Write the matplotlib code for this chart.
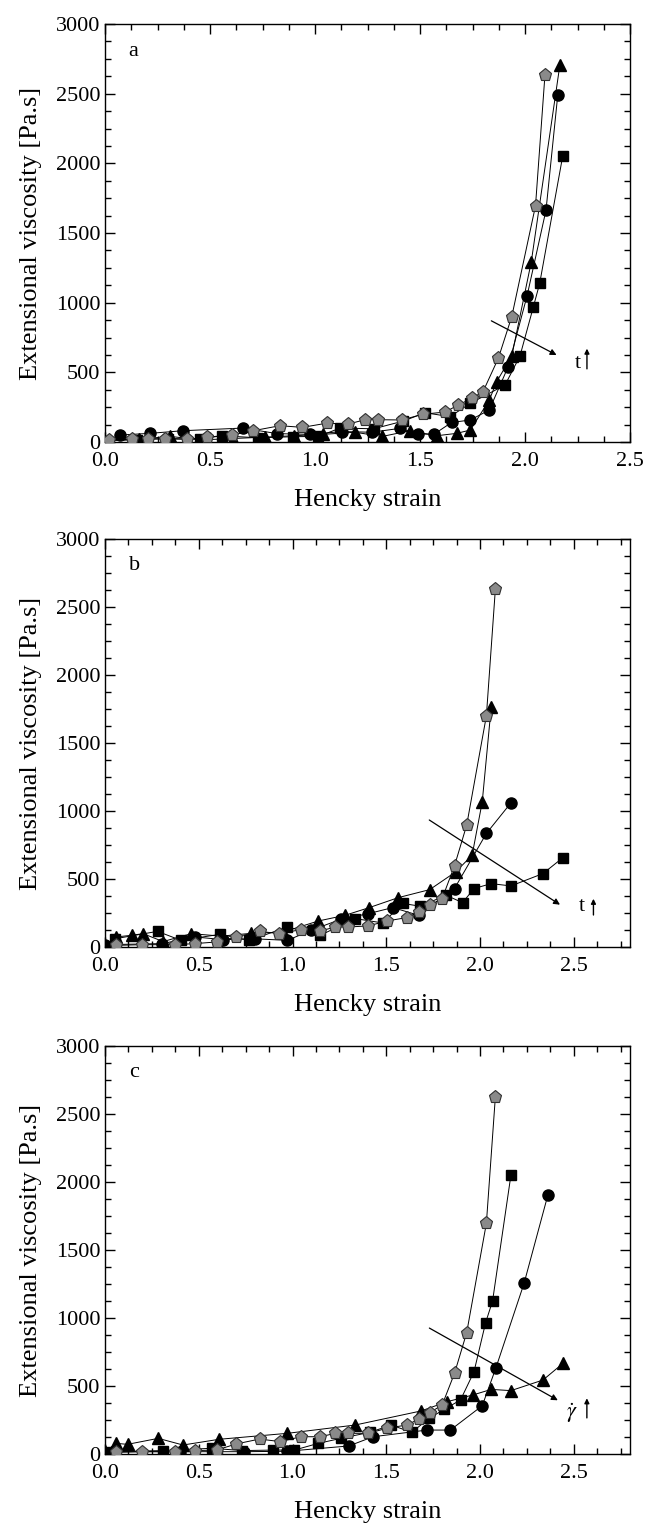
import matplotlib
matplotlib.use("Agg")
import matplotlib.pyplot as plt
from matplotlib.ticker import MultipleLocator

plt.rcParams['font.family'] = ['Liberation Serif', 'DejaVu Serif']
plt.rcParams['mathtext.fontset'] = 'stix'

# ---------------- Panel a ----------------
a_pent_x = [0.02, 0.127, 0.206, 0.286, 0.389, 0.484, 0.603, 0.706, 0.833, 0.94, 1.056, 1.159, 1.238, 1.302, 1.413, 1.513, 1.619, 1.683, 1.746, 1.80, 1.873, 1.937, 2.05, 2.095]
a_pent_y = [12, 20, 24, 22, 20, 35, 50, 81, 117, 105, 135, 129, 160, 160, 158, 199, 215, 266, 313, 361, 601, 900, 1695, 2633]
a_circ_x = [0.07, 0.214, 0.37, 0.656, 0.82, 0.976, 1.13, 1.27, 1.405, 1.492, 1.568, 1.65, 1.74, 1.83, 1.92, 2.01, 2.10, 2.156]
a_circ_y = [50, 62, 81, 100, 60, 55, 75, 70, 98, 57, 57, 140, 158, 230, 541, 1050, 1664, 2490]
a_tri_x = [0.02, 0.16, 0.31, 0.46, 0.61, 0.76, 0.90, 1.04, 1.19, 1.32, 1.45, 1.58, 1.675, 1.74, 1.83, 1.865, 1.937, 2.03, 2.166]
a_tri_y = [15, 20, 40, 15, 25, 35, 45, 55, 70, 40, 80, 45, 62, 86, 301, 433, 617, 1294, 2705]
a_sq_x = [0.0, 0.15, 0.30, 0.45, 0.556, 0.73, 0.894, 1.016, 1.12, 1.28, 1.42, 1.524, 1.643, 1.74, 1.905, 1.976, 2.04, 2.07, 2.18]
a_sq_y = [10, 15, 25, 20, 45, 30, 38, 40, 100, 95, 150, 210, 182, 278, 409, 617, 971, 1139, 2056]

# ---------------- Panel b ----------------
b_pent_x = [0.061, 0.197, 0.372, 0.48, 0.595, 0.70, 0.825, 0.93, 1.045, 1.148, 1.229, 1.295, 1.404, 1.503, 1.608, 1.673, 1.732, 1.798, 1.864, 1.929, 2.034, 2.082]
b_pent_y = [12, 17, 17, 25, 37, 74, 115, 98, 128, 118, 147, 147, 155, 191, 216, 258, 307, 356, 597, 896, 1699, 2632]
b_circ_x = [0.0, 0.306, 0.48, 0.63, 0.80, 0.973, 1.10, 1.258, 1.404, 1.535, 1.673, 1.864, 2.034, 2.165]
b_circ_y = [17, 25, 74, 54, 60, 49, 123, 204, 245, 290, 233, 430, 835, 1060]
b_tri_x = [0.06, 0.142, 0.203, 0.31, 0.46, 0.62, 0.776, 0.95, 1.137, 1.28, 1.41, 1.564, 1.732, 1.87, 1.958, 2.012, 2.06]
b_tri_y = [74, 86, 98, 40, 98, 80, 100, 110, 191, 233, 290, 363, 422, 552, 675, 1068, 1768]
b_sq_x = [0.055, 0.28, 0.405, 0.612, 0.77, 0.973, 1.148, 1.334, 1.48, 1.59, 1.68, 1.82, 1.907, 1.968, 2.06, 2.165, 2.336, 2.443]
b_sq_y = [61, 115, 49, 93, 49, 147, 86, 209, 177, 320, 300, 380, 326, 430, 466, 449, 540, 658]

# ---------------- Panel c ----------------
c_pent_x = [0.061, 0.197, 0.372, 0.48, 0.595, 0.70, 0.825, 0.934, 1.045, 1.148, 1.229, 1.295, 1.404, 1.503, 1.608, 1.673, 1.732, 1.798, 1.864, 1.929, 2.034, 2.082]
c_pent_y = [12, 17, 17, 25, 29, 74, 110, 91, 127, 127, 152, 152, 152, 189, 213, 255, 304, 360, 593, 892, 1696, 2627]
c_circ_x = [0.04, 0.40, 0.74, 0.97, 1.30, 1.43, 1.717, 1.842, 2.012, 2.084, 2.235, 2.362]
c_circ_y = [17, 17, 17, 20, 59, 127, 176, 176, 355, 630, 1255, 1904]
c_tri_x = [0.0, 0.061, 0.12, 0.284, 0.416, 0.608, 0.973, 1.334, 1.684, 1.826, 1.962, 2.06, 2.165, 2.336, 2.443]
c_tri_y = [20, 78, 71, 115, 66, 108, 152, 213, 316, 385, 434, 475, 466, 544, 667]
c_sq_x = [0.0, 0.31, 0.569, 0.733, 0.897, 1.01, 1.137, 1.258, 1.411, 1.527, 1.636, 1.728, 1.809, 1.896, 1.968, 2.03, 2.067, 2.165]
c_sq_y = [17, 25, 42, 25, 29, 29, 78, 115, 159, 213, 159, 262, 328, 397, 605, 966, 1125, 2051]

panel_letters = ["a", "b", "c"]
xlims = [2.5, 2.8, 2.8]
arrow_starts = [(1.828, 879), (1.717, 945), (1.717, 936)]
arrow_ends = [(2.162, 615), (2.439, 300), (2.428, 385)]
param_labels = ["t", "t", r"$\dot{\gamma}$"]
param_pos = [(2.25, 560), (2.545, 300), (2.49, 300)]
param_arrow_x = [2.295, 2.605, 2.57]
param_arrow_y = [(505, 690), (215, 375), (245, 430)]

xlabel = "Hencky strain"
ylabel = "Extensional viscosity [Pa.s]"

W, H = 646, 1528
fig = plt.figure(figsize=(W / 100, H / 100), dpi=100)
boxes = [(24, 442), (539, 947), (1046, 1454)]
left_px, right_px = 105, 630

panels = [
    (a_pent_x, a_pent_y, a_circ_x, a_circ_y, a_tri_x, a_tri_y, a_sq_x, a_sq_y),
    (b_pent_x, b_pent_y, b_circ_x, b_circ_y, b_tri_x, b_tri_y, b_sq_x, b_sq_y),
    (c_pent_x, c_pent_y, c_circ_x, c_circ_y, c_tri_x, c_tri_y, c_sq_x, c_sq_y),
]

for i, (top, bot) in enumerate(boxes):
    ax = fig.add_axes([left_px / W, 1 - bot / H, (right_px - left_px) / W, (bot - top) / H])
    px, py, cx, cy, tx, ty, sx, sy = panels[i]
    lw = 0.7
    ax.plot(sx, sy, '-', color='black', lw=lw, marker='s', ms=7.5, mfc='black', mec='black', zorder=3)
    ax.plot(tx, ty, '-', color='black', lw=lw, marker='^', ms=8.5, mfc='black', mec='black', zorder=3)
    ax.plot(cx, cy, '-', color='black', lw=lw, marker='o', ms=8, mfc='black', mec='black', zorder=3)
    ax.plot(px, py, '-', color='black', lw=lw, marker='p', ms=9.5, mfc='#8a8a8a', mec='#303030', mew=0.8, zorder=4)

    ax.set_xlim(0, xlims[i])
    ax.set_ylim(0, 3000)
    ax.xaxis.set_major_locator(MultipleLocator(0.5))
    ax.xaxis.set_minor_locator(MultipleLocator(0.125))
    ax.yaxis.set_major_locator(MultipleLocator(500))
    ax.yaxis.set_minor_locator(MultipleLocator(125))
    ax.xaxis.set_major_formatter(plt.FuncFormatter(lambda v, p: f"{v:.1f}"))
    ax.tick_params(which='both', direction='in', top=True, right=True, labelsize=16, width=1.0)
    ax.tick_params(which='major', length=7)
    ax.tick_params(which='minor', length=4)
    ax.tick_params(axis='x', which='major', pad=7)
    for s in ax.spines.values():
        s.set_linewidth(1.0)
    ax.set_xlabel(xlabel, fontsize=19, labelpad=13)
    ax.set_ylabel(ylabel, fontsize=19, labelpad=10)

    ax.text(0.045, 0.935, panel_letters[i], transform=ax.transAxes, fontsize=16, ha='left', va='center')

    ax.annotate("", xy=arrow_ends[i], xytext=arrow_starts[i],
                arrowprops=dict(arrowstyle='-|>', color='black', lw=0.9, mutation_scale=9))
    ax.text(param_pos[i][0], param_pos[i][1], param_labels[i], fontsize=16, ha='center', va='center')
    ax.annotate("", xy=(param_arrow_x[i], param_arrow_y[i][1]), xytext=(param_arrow_x[i], param_arrow_y[i][0]),
                arrowprops=dict(arrowstyle='-|>', color='black', lw=1.0, mutation_scale=7))

fig.savefig("out.png", dpi=100)
